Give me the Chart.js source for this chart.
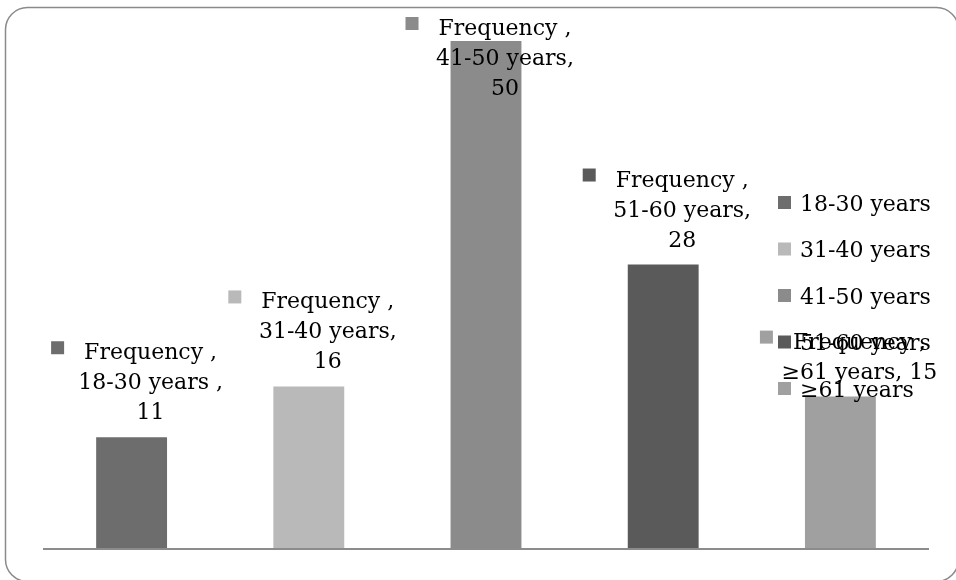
<!DOCTYPE html>
<html>
<head>
<meta charset="utf-8">
<script src="https://cdn.jsdelivr.net/npm/chart.js@4/dist/chart.umd.min.js"></script>
<style>
  html, body { margin: 0; padding: 0; background: #ffffff; }
  #wrap { width: 956px; height: 580px; position: relative; }
</style>
</head>
<body>
<div id="wrap"><canvas id="chart" width="956" height="580"></canvas></div>
<script>
// Age groups and their frequencies
const categories = ['18-30 years', '31-40 years', '41-50 years', '51-60 years', '≥61 years'];
const frequency = [11, 16, 50, 28, 15];
const seriesName = 'Frequency ';
const barColors = ['#6d6d6d', '#b9b9b9', '#8b8b8b', '#5a5a5a', '#a0a0a0'];
// Separator after the category in each data label, and whether the value shares its line
const labelSeparators = [' ,', ',', ',', ',', ','];
const valueOnSameLine = [false, false, false, false, true];

const FONT = '22px "DejaVu Serif"';

function labelLines(i) {
  const first = seriesName + ',';
  const cat = categories[i] + labelSeparators[i];
  const val = String(frequency[i]);
  return valueOnSameLine[i] ? [first, cat + ' ' + val] : [first, cat, val];
}

// Rounded outer frame (right and bottom edges run just past the canvas)
const framePlugin = {
  id: 'frame',
  beforeDraw(chart) {
    const ctx = chart.ctx;
    ctx.save();
    ctx.fillStyle = '#ffffff';
    ctx.fillRect(0, 0, chart.width, chart.height);
    ctx.strokeStyle = '#8a8a8a';
    ctx.lineWidth = 1.5;
    ctx.beginPath();
    ctx.roundRect(5.5, 7.5, 953, 574, 22);
    ctx.stroke();
    ctx.restore();
  }
};

// Category axis baseline, data labels and right-hand legend
const annotatePlugin = {
  id: 'annotate',
  afterDatasetsDraw(chart) {
    const ctx = chart.ctx;
    const area = chart.chartArea;
    const y0 = chart.scales.y.getPixelForValue(0);
    ctx.save();
    ctx.strokeStyle = '#8c8c8c';
    ctx.lineWidth = 2;
    ctx.beginPath();
    ctx.moveTo(area.left, y0);
    ctx.lineTo(area.right, y0);
    ctx.stroke();

    ctx.font = FONT;
    ctx.fillStyle = '#000000';
    ctx.textBaseline = 'alphabetic';
    const meta = chart.getDatasetMeta(0);
    const lineGap = 30;
    meta.data.forEach((bar, i) => {
      const lines = labelLines(i);
      const cx = bar.x + 19;
      let last = bar.y - 18;
      let first = last - (lines.length - 1) * lineGap;
      if (first < 35) { last += 35 - first; first = 35; }
      ctx.textAlign = 'center';
      lines.forEach((t, k) => {
        ctx.fillStyle = '#000000';
        ctx.fillText(t, cx, first + k * lineGap);
      });
      const w = ctx.measureText(lines[0]).width;
      const mRight = cx - w / 2 - 20;
      ctx.fillStyle = barColors[i];
      ctx.fillRect(mRight - 13, first - 18, 13, 13);
    });

    // legend
    const lx = 778, ly0 = 203, ldy = 46.5;
    ctx.textAlign = 'left';
    ctx.textBaseline = 'middle';
    chart.data.labels.forEach((lab, i) => {
      const cy = ly0 + i * ldy;
      ctx.fillStyle = barColors[i];
      ctx.fillRect(lx, cy - 7, 13, 13);
      ctx.fillStyle = '#000000';
      ctx.fillText(lab, lx + 22, cy + 2);
    });
    ctx.restore();
  }
};

new Chart(document.getElementById('chart'), {
  type: 'bar',
  data: {
    labels: categories,
    datasets: [{
      label: seriesName,
      data: frequency,
      backgroundColor: barColors,
      borderWidth: 0,
      categoryPercentage: 1.0,
      barPercentage: 0.4
    }]
  },
  options: {
    responsive: false,
    animation: false,
    devicePixelRatio: 1,
    layout: { padding: { left: 43, right: 27, top: 41, bottom: 31 } },
    scales: {
      x: { display: false },
      y: { display: false, min: 0, max: 50 }
    },
    plugins: {
      legend: { display: false },
      tooltip: { enabled: false }
    }
  },
  plugins: [framePlugin, annotatePlugin]
});
</script>
</body>
</html>
